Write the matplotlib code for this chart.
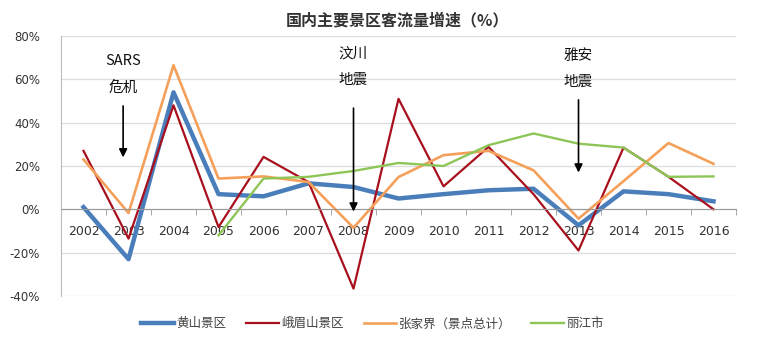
import matplotlib
matplotlib.use("Agg")
import matplotlib.pyplot as plt
import numpy as np

plt.rcParams["font.family"] = ["Noto Sans CJK SC", "DejaVu Sans"]

years = ["2002", "2003", "2004", "2005", "2006", "2007", "2008", "2009",
         "2010", "2011", "2012", "2013", "2014", "2015", "2016"]
huangshan = [1, -23, 54, 7, 6, 12, 10.3, 5, 7, 8.8, 9.5, -7.4, 8.3, 7, 3.7]
emei = [27, -13.5, 48, -8.2, 24.2, 12.6, -36.6, 51, 10.6, 28.8, 7, -19, 28.5, 15, 0]
zhangjiajie = [23, -1.7, 66.5, 14.2, 15.2, 12.6, -8.5, 14.9, 25, 27, 18, -4.3, 13, 30.6, 21]
lijiang = [np.nan, np.nan, np.nan, -12, 14.2, 15, 17.7, 21.4, 20, 29.6, 35, 30.3, 28.5, 15, 15.2]

series_names = ["黄山景区", "峨眉山景区", "张家界（景点总计）", "丽江市"]
events = [("SARS", "危机", 0.88), ("汶川", "地震", 6.0), ("雅安", "地震", 11.0)]

fig = plt.figure(figsize=(7.59, 3.46), dpi=100)
ax = fig.add_axes([0.0804, 0.1445, 0.8893, 0.7515])

x = np.arange(len(years))
ax.plot(x, huangshan, color="#4A7EBB", lw=3.2, label=series_names[0])
ax.plot(x, emei, color="#A8101E", lw=1.6, label=series_names[1])
ax.plot(x, zhangjiajie, color="#F5A05A", lw=1.9, label=series_names[2])
ax.plot(x, lijiang, color="#8DC657", lw=1.7, label=series_names[3])

ax.set_xlim(-0.5, len(years) - 0.5)
ax.set_ylim(-40, 80)
ax.set_yticks(np.arange(-40, 81, 20))
ax.set_yticklabels([f"{v}%" for v in range(-40, 81, 20)])
ax.yaxis.grid(True, color="#DDDDDD", lw=0.9)
ax.set_axisbelow(True)

ax.spines["top"].set_visible(False)
ax.spines["right"].set_visible(False)
ax.spines["left"].set_color("#BBBBBB")
ax.spines["bottom"].set_position(("data", 0))
ax.spines["bottom"].set_color("#999999")

ax.set_xticks(x)
ax.set_xticklabels(years)
ax.set_xticks(np.arange(-0.5, len(years), 1), minor=True)
ax.tick_params(axis="x", which="major", length=0, pad=11, labelsize=9, labelcolor="#333333")
ax.tick_params(axis="x", which="minor", length=4, color="#999999", direction="out")
ax.tick_params(axis="y", length=0, pad=15, labelsize=8.5, labelcolor="#333333")
for lbl in ax.get_xticklabels() + ax.get_yticklabels():
    lbl.set_fontfamily("DejaVu Sans")

arrow_spans = [(49, 22.7), (48, -2.3), (51.8, 15.7)]
text_y = [(68.4, 56), (72, 59.7), (71, 58.7)]
for (t1, t2, xe), (ys, ye), (ty1, ty2) in zip(events, arrow_spans, text_y):
    ax.text(xe, ty1, t1, ha="center", va="center", fontsize=10.5, color="#111111")
    ax.text(xe, ty2, t2, ha="center", va="center", fontsize=10.5, color="#111111")
    ax.annotate("", xy=(xe, ye), xytext=(xe, ys),
                arrowprops=dict(arrowstyle="-|>", color="black", lw=1.2,
                                mutation_scale=12))

fig.text(0.524, 0.942, "国内主要景区客流量增速（%）", ha="center", va="center",
         fontsize=11.5, fontweight="bold", color="#333333")

fig.legend(loc="center", bbox_to_anchor=(0.491, 0.064), ncol=4, frameon=False,
           fontsize=9, handlelength=2.6, handletextpad=0.2, columnspacing=1.6,
           labelcolor="#404040")

fig.savefig("out.png", dpi=100, facecolor="white")
